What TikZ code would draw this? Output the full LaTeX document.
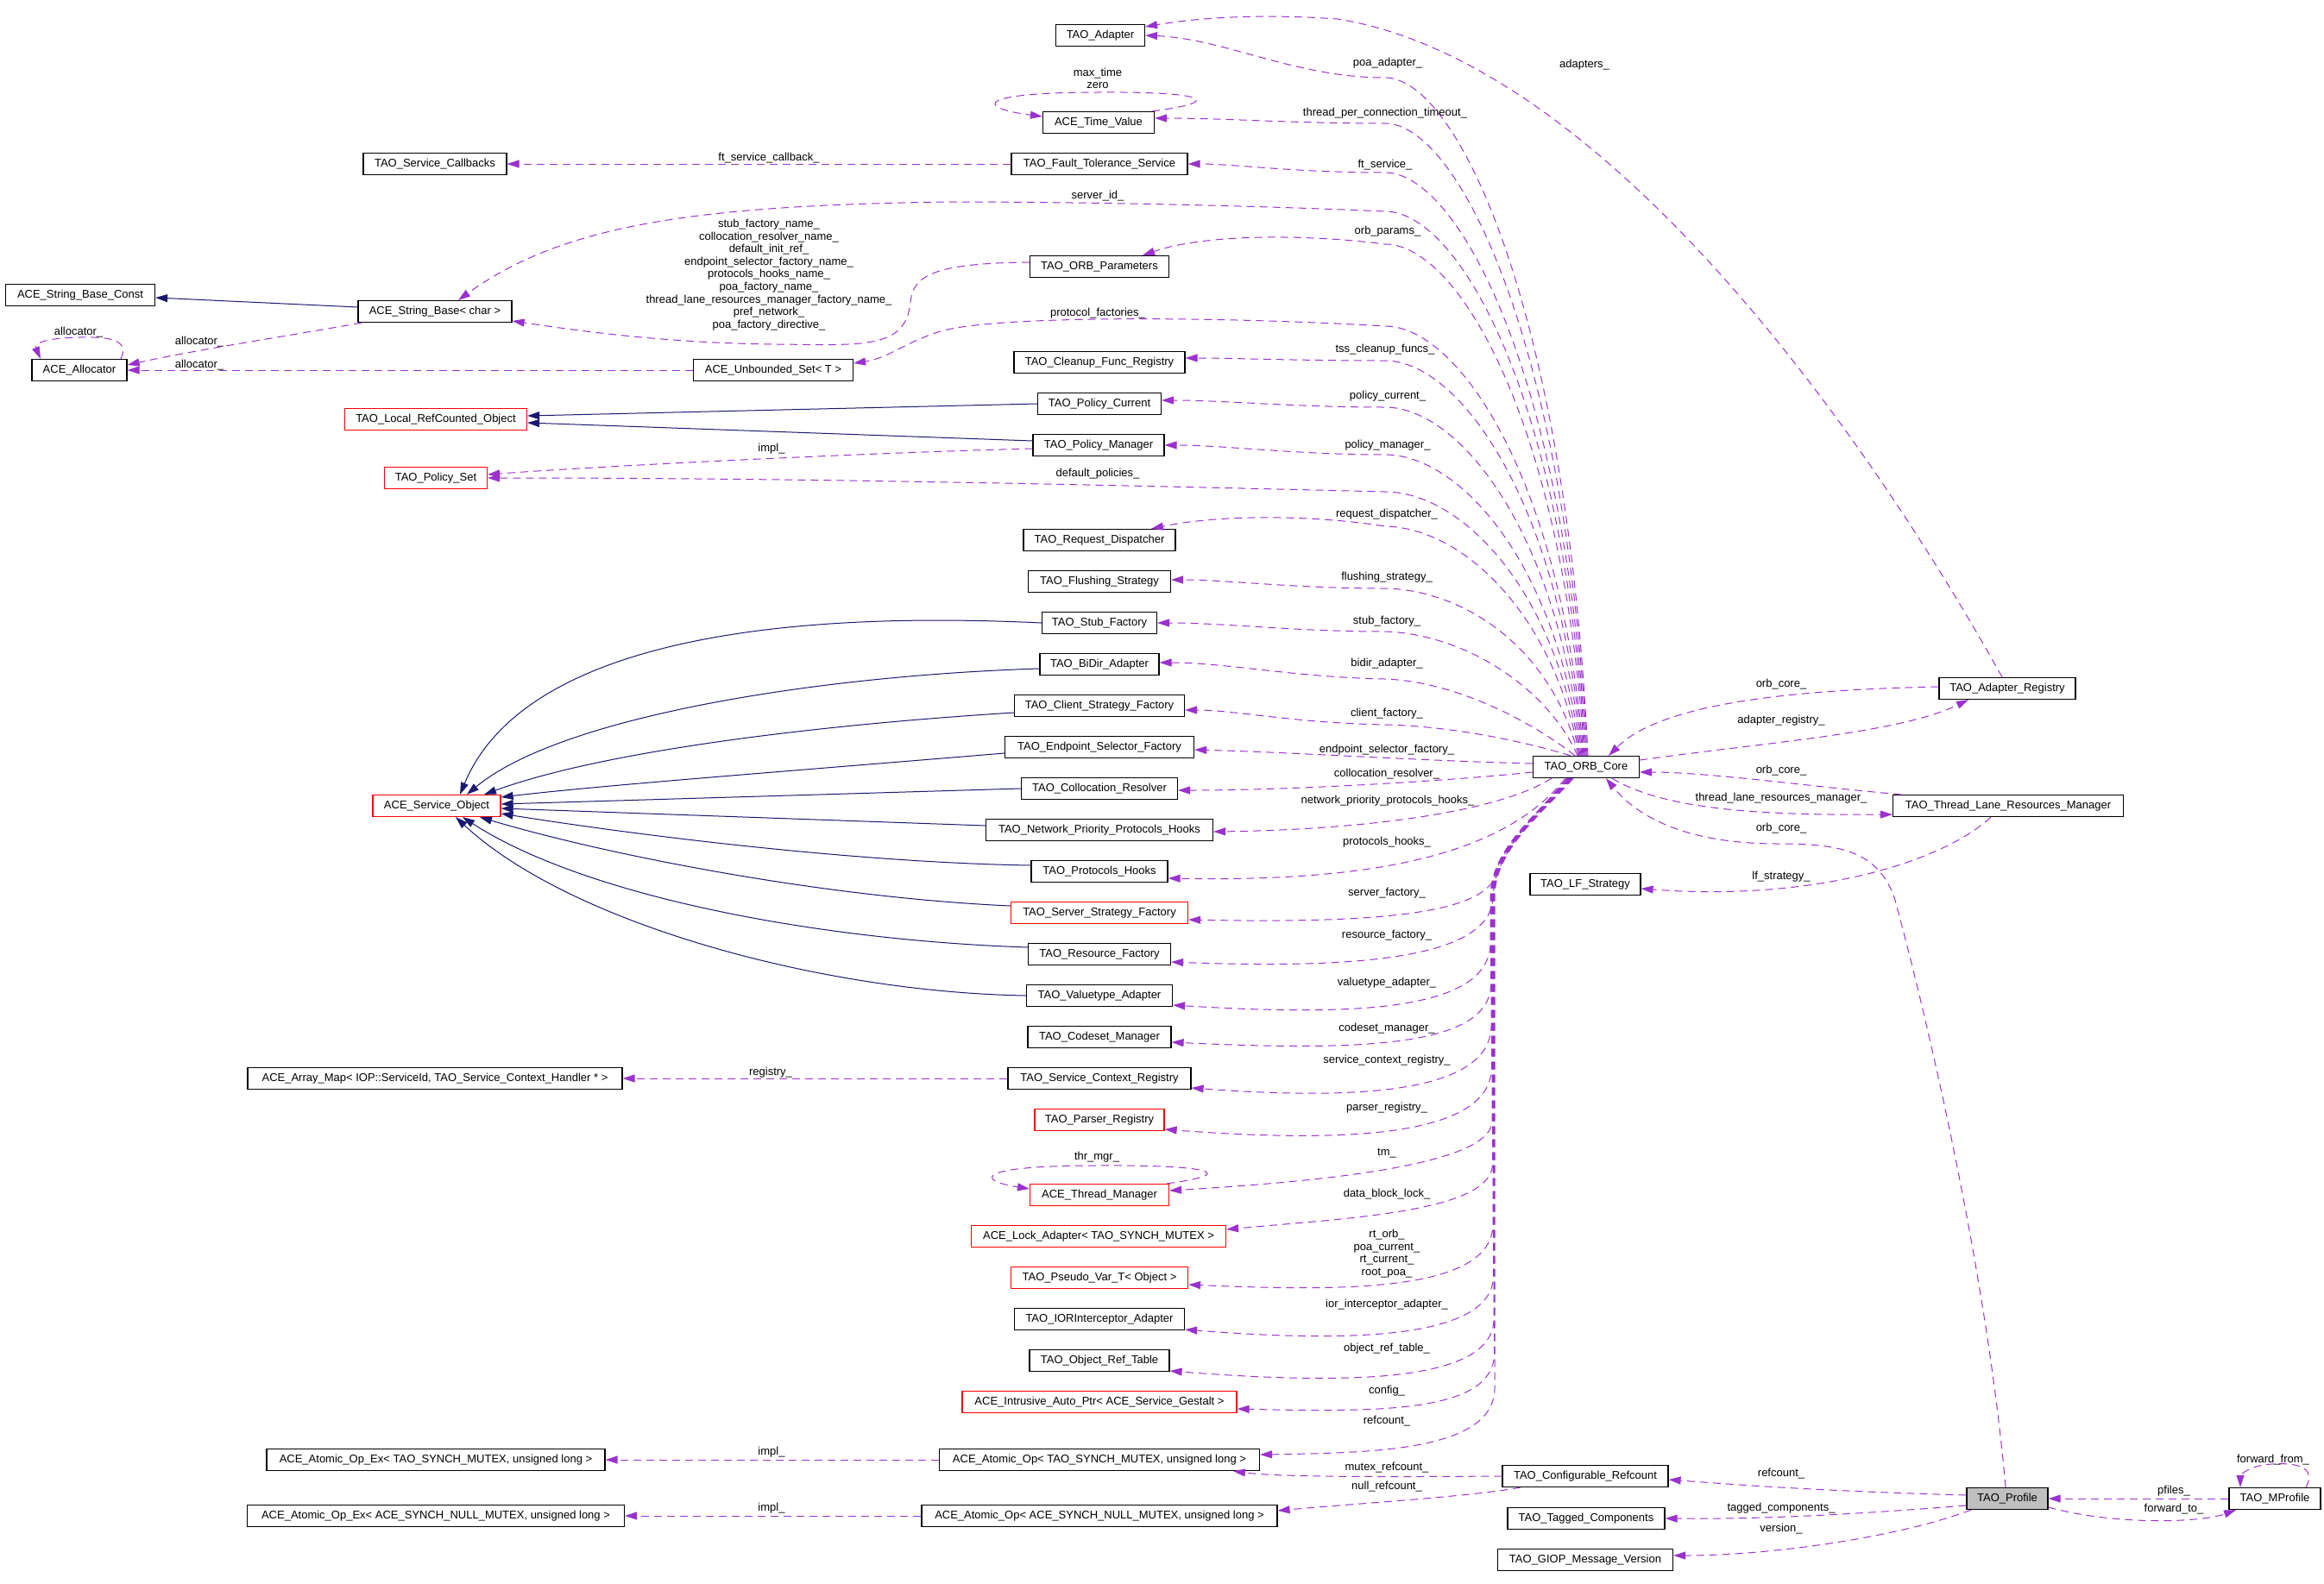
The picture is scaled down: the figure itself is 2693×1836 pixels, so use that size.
\documentclass[tikz,border=0pt]{standalone}
\usepackage{fontspec}
\setmainfont{Liberation Sans}
\usetikzlibrary{arrows.meta}
\definecolor{dpurple}{HTML}{9A32CD}
\definecolor{mnavy}{HTML}{191970}
\definecolor{pgray}{HTML}{BFBFBF}
\newcommand{\dxfs}{\fontsize{13}{14.6}\selectfont}
\begin{document}
\begin{tikzpicture}[x=1pt,y=1pt,
 cls/.style={draw=black,line width=1.2pt,fill=white,minimum height=25pt,inner xsep=0pt,inner ysep=0pt,font=\dxfs},
 rcls/.style={cls,draw=red},
 lab/.style={inner sep=0pt,font=\dxfs,align=center},
 usage/.style={draw=dpurple,line width=1pt,dash pattern=on 9pt off 6pt,-{Triangle[length=14pt,width=9pt]}},
 inh/.style={draw=mnavy,line width=1pt,-{Triangle[length=14pt,width=9pt]}}]
\fill[white] (0,0) rectangle (2693,-1836);
\useasboundingbox (0,0) rectangle (2693,-1836);
% ---------- nodes ----------
\node[cls,minimum width=173pt] (sbc) at (93,-342) {ACE\_String\_Base\_Const};
\node[cls,minimum width=178pt] (sb) at (504,-361) {ACE\_String\_Base< char >};
\node[cls,minimum width=110pt] (alloc) at (92,-429) {ACE\_Allocator};
\node[cls,minimum width=166pt] (tscb) at (504,-190) {TAO\_Service\_Callbacks};
\node[rcls,minimum width=211pt] (lrco) at (505,-486) {TAO\_Local\_RefCounted\_Object};
\node[rcls,minimum width=119pt] (pset) at (505,-554) {TAO\_Policy\_Set};
\node[rcls,minimum width=148pt] (so) at (506,-934) {ACE\_Service\_Object};
\node[cls,minimum width=434pt] (amap) at (504,-1250) {ACE\_Array\_Map< IOP::ServiceId, TAO\_Service\_Context\_Handler * >};
\node[cls,minimum width=392pt] (aoex1) at (505,-1692) {ACE\_Atomic\_Op\_Ex< TAO\_SYNCH\_MUTEX, unsigned long >};
\node[cls,minimum width=437pt] (aoex2) at (505,-1757) {ACE\_Atomic\_Op\_Ex< ACE\_SYNCH\_NULL\_MUTEX, unsigned long >};
\node[cls,minimum width=185pt] (aus) at (896,-429) {ACE\_Unbounded\_Set< T >};
\node[cls,minimum width=103pt] (adapter) at (1275,-41) {TAO\_Adapter};
\node[cls,minimum width=129pt] (tv) at (1273,-142) {ACE\_Time\_Value};
\node[cls,minimum width=204pt] (fts) at (1274,-190) {TAO\_Fault\_Tolerance\_Service};
\node[cls,minimum width=161pt] (orbp) at (1274,-309) {TAO\_ORB\_Parameters};
\node[cls,minimum width=198pt] (cfr) at (1274,-420) {TAO\_Cleanup\_Func\_Registry};
\node[cls,minimum width=143pt] (pcur) at (1274,-468) {TAO\_Policy\_Current};
\node[cls,minimum width=152pt] (pman) at (1273,-516) {TAO\_Policy\_Manager};
\node[cls,minimum width=176pt] (rd) at (1274,-626) {TAO\_Request\_Dispatcher};
\node[cls,minimum width=165pt] (fs) at (1274,-674) {TAO\_Flushing\_Strategy};
\node[cls,minimum width=133pt] (stub) at (1274,-722) {TAO\_Stub\_Factory};
\node[cls,minimum width=138pt] (bidir) at (1274,-770) {TAO\_BiDir\_Adapter};
\node[cls,minimum width=197pt] (csf) at (1274,-818) {TAO\_Client\_Strategy\_Factory};
\node[cls,minimum width=219pt] (esf) at (1274,-866) {TAO\_Endpoint\_Selector\_Factory};
\node[cls,minimum width=181pt] (cres) at (1274,-914) {TAO\_Collocation\_Resolver};
\node[cls,minimum width=263pt] (nph) at (1274,-962) {TAO\_Network\_Priority\_Protocols\_Hooks};
\node[cls,minimum width=158pt] (ph) at (1274,-1010) {TAO\_Protocols\_Hooks};
\node[rcls,minimum width=205pt] (ssf) at (1274,-1058) {TAO\_Server\_Strategy\_Factory};
\node[cls,minimum width=165pt] (rf) at (1274,-1106) {TAO\_Resource\_Factory};
\node[cls,minimum width=169pt] (vta) at (1274,-1154) {TAO\_Valuetype\_Adapter};
\node[cls,minimum width=166pt] (csm) at (1274,-1202) {TAO\_Codeset\_Manager};
\node[cls,minimum width=212pt] (scr) at (1274,-1250) {TAO\_Service\_Context\_Registry};
\node[rcls,minimum width=150pt] (preg) at (1274,-1298) {TAO\_Parser\_Registry};
\node[rcls,minimum width=161pt] (tm) at (1274,-1385) {ACE\_Thread\_Manager};
\node[rcls,minimum width=295pt] (lock) at (1273,-1433) {ACE\_Lock\_Adapter< TAO\_SYNCH\_MUTEX >};
\node[rcls,minimum width=205pt] (pv) at (1274,-1481) {TAO\_Pseudo\_Var\_T< Object >};
\node[cls,minimum width=197pt] (ior) at (1274,-1529) {TAO\_IORInterceptor\_Adapter};
\node[cls,minimum width=162pt] (ort) at (1274,-1577) {TAO\_Object\_Ref\_Table};
\node[rcls,minimum width=318pt] (iap) at (1274,-1625) {ACE\_Intrusive\_Auto\_Ptr< ACE\_Service\_Gestalt >};
\node[cls,minimum width=371pt] (ao1) at (1274,-1692) {ACE\_Atomic\_Op< TAO\_SYNCH\_MUTEX, unsigned long >};
\node[cls,minimum width=412pt] (ao2) at (1274,-1757) {ACE\_Atomic\_Op< ACE\_SYNCH\_NULL\_MUTEX, unsigned long >};
\node[cls,minimum width=123pt] (core) at (1838,-889) {TAO\_ORB\_Core};
\node[cls,minimum width=128pt] (lfs) at (1837,-1025) {TAO\_LF\_Strategy};
\node[cls,minimum width=192pt] (cref) at (1837,-1711) {TAO\_Configurable\_Refcount};
\node[cls,minimum width=182pt] (tagc) at (1838,-1760) {TAO\_Tagged\_Components};
\node[cls,minimum width=203pt] (giop) at (1837,-1808) {TAO\_GIOP\_Message\_Version};
\node[cls,minimum width=158pt] (areg) at (2326,-798) {TAO\_Adapter\_Registry};
\node[cls,minimum width=267pt] (tlrm) at (2327,-934) {TAO\_Thread\_Lane\_Resources\_Manager};
\node[cls,fill=pgray,minimum width=94pt] (prof) at (2326,-1737) {TAO\_Profile};
\node[cls,minimum width=106pt] (mprof) at (2636,-1737) {TAO\_MProfile};
% ---------- inheritance ----------
\draw[inh] ([yshift=5pt]sb.west) -- ([yshift=-3pt]sbc.east);
\draw[inh] (pcur.west) -- ([yshift=4pt]lrco.east);
\draw[inh] ([yshift=5pt]pman.west) -- ([yshift=-4pt]lrco.east);
\draw[inh] (stub.west) .. controls (850,-705) and (600,-760) .. ([xshift=27pt]so.north);
\draw[inh] ([yshift=-5pt]bidir.west) .. controls (950,-783) and (650,-830) .. ([xshift=35pt]so.north);
\draw[inh] ([yshift=-8pt]csf.west) .. controls (950,-840) and (700,-870) .. ([xshift=55pt]so.north);
\draw[inh] ([yshift=-7pt]esf.west) .. controls (900,-895) and (700,-910) .. ([yshift=10pt]so.east);
\draw[inh] (cres.west) -- ([yshift=2pt]so.east);
\draw[inh] ([yshift=5pt]nph.west) -- ([yshift=-3pt]so.east);
\draw[inh] ([yshift=7pt]ph.west) .. controls (1000,-1000) and (750,-970) .. ([yshift=-9pt]so.east);
\draw[inh] ([yshift=8pt]ssf.west) .. controls (950,-1040) and (700,-990) .. ([xshift=50pt]so.south);
\draw[inh] ([yshift=8pt]rf.west) .. controls (950,-1090) and (680,-1040) .. ([xshift=30pt]so.south);
\draw[inh] (vta.west) .. controls (950,-1150) and (660,-1070) .. ([xshift=22pt]so.south);
% ---------- usage: upper fan from core ----------
\draw[usage] ([xshift=2pt]core.north) .. controls (1816,-364) and (1690,-90) .. (1605,-90) .. controls (1500,-90) and (1420,-45) .. (adapter.east);
\draw[usage] ([xshift=1pt]core.north) .. controls (1816,-400) and (1690,-143) .. (1605,-143) .. controls (1500,-143) and (1420,-137) .. ([yshift=5pt]tv.east);
\draw[usage] (core.north) .. controls (1815,-437) and (1690,-200) .. (1605,-200) .. controls (1500,-200) and (1430,-190) .. (fts.east);
\draw[usage] ([xshift=-1pt]core.north) .. controls (1813,-460) and (1690,-245) .. (1605,-245) .. controls (1400,-236) and (1200,-234) .. (1100,-234) .. controls (800,-238) and (650,-262) .. ([xshift=27pt]sb.north);
\draw[usage] ([xshift=-2pt]core.north) .. controls (1811,-490) and (1690,-283) .. (1605,-283) .. controls (1520,-272) and (1400,-270) .. ([xshift=50pt]orbp.north);
\draw[usage] ([xshift=-3pt]core.north) .. controls (1809,-555) and (1690,-378) .. (1605,-378) .. controls (1400,-366) and (1150,-366) .. (1090,-384) .. controls (1050,-396) and (1030,-415) .. ([yshift=8pt]aus.east);
\draw[usage] ([xshift=-4pt]core.north) .. controls (1807,-578) and (1690,-418) .. (1605,-418) .. controls (1500,-418) and (1430,-415) .. ([yshift=5pt]cfr.east);
\draw[usage] ([xshift=-5pt]core.north) .. controls (1805,-613) and (1690,-472) .. (1605,-472) .. controls (1500,-472) and (1420,-464) .. ([yshift=4pt]pcur.east);
\draw[usage] ([xshift=-6pt]core.north) .. controls (1803,-649) and (1690,-527) .. (1605,-527) .. controls (1500,-527) and (1420,-516) .. (pman.east);
\draw[usage] ([xshift=-7pt]core.north) .. controls (1801,-677) and (1690,-570) .. (1605,-570) .. controls (1200,-560) and (900,-554) .. (pset.east);
\draw[usage] ([xshift=-8pt]core.north) .. controls (1803,-720) and (1700,-612) .. (1605,-610) .. controls (1530,-598) and (1420,-595) .. ([xshift=60pt]rd.north);
\draw[usage] ([xshift=-9pt]core.north) .. controls (1800,-755) and (1700,-684) .. (1605,-682) .. controls (1500,-682) and (1420,-672) .. ([yshift=2pt]fs.east);
\draw[usage] ([xshift=-10pt]core.north) .. controls (1795,-800) and (1700,-735) .. (1605,-732) .. controls (1500,-732) and (1420,-722) .. (stub.east);
\draw[usage] ([xshift=-13pt]core.north) .. controls (1780,-840) and (1690,-790) .. (1605,-787) .. controls (1500,-785) and (1420,-768) .. ([yshift=2pt]bidir.east);
\draw[usage] ([xshift=-18pt]core.north) .. controls (1775,-862) and (1690,-842) .. (1605,-840) .. controls (1500,-838) and (1430,-823) .. ([yshift=-5pt]csf.east);
\draw[usage] ([yshift=4pt]core.west) .. controls (1650,-882) and (1500,-872) .. ([yshift=-3pt]esf.east);
\draw[usage] ([yshift=-6pt]core.west) .. controls (1680,-905) and (1500,-916) .. ([yshift=-2pt]cres.east);
% ---------- usage: lower fan from core ----------
\draw[usage] ([xshift=-40pt]core.south) .. controls (1730,-945) and (1560,-962) .. ([yshift=-2pt]nph.east);
\draw[usage] ([xshift=-24pt]core.south) .. controls (1740,-995) and (1580,-1022) .. ([yshift=-8pt]ph.east);
\draw[usage] ([xshift=-22pt]core.south) .. controls (1770,-955) and (1740,-985) .. (1734,-1010) .. controls (1727,-1062) and (1580,-1070) .. ([yshift=-8pt]ssf.east);
\draw[usage] ([xshift=-21pt]core.south) .. controls (1775,-950) and (1732,-990) .. (1730,-1040) .. controls (1728,-1112) and (1570,-1123) .. ([yshift=-9pt]rf.east);
\draw[usage] ([xshift=-20pt]core.south) .. controls (1780,-945) and (1727,-985) .. (1727,-1040) -- (1727,-1094) .. controls (1725,-1172) and (1570,-1178) .. ([yshift=-11pt]vta.east);
\draw[usage] ([xshift=-19.5pt]core.south) .. controls (1780.5,-945) and (1727.5,-985) .. (1727.5,-1040) -- (1727.5,-1142) .. controls (1725.5,-1215) and (1570,-1218) .. ([yshift=-6pt]csm.east);
\draw[usage] ([xshift=-19pt]core.south) .. controls (1781,-945) and (1728,-985) .. (1728,-1040) -- (1728,-1190) .. controls (1726,-1268) and (1570,-1275) .. ([yshift=-11pt]scr.east);
\draw[usage] ([xshift=-18.5pt]core.south) .. controls (1781.5,-945) and (1728.5,-985) .. (1728.5,-1040) -- (1728.5,-1238) .. controls (1726.5,-1318) and (1560,-1325) .. ([yshift=-11pt]preg.east);
\draw[usage] ([xshift=-18pt]core.south) .. controls (1782,-945) and (1729,-985) .. (1729,-1040) -- (1729,-1300) .. controls (1727,-1352) and (1520,-1370) .. ([yshift=5pt]tm.east);
\draw[usage] ([xshift=-17.5pt]core.south) .. controls (1782.5,-945) and (1729.5,-985) .. (1729.5,-1040) -- (1729.5,-1350) .. controls (1727.5,-1405) and (1560,-1412) .. ([yshift=8pt]lock.east);
\draw[usage] ([xshift=-17pt]core.south) .. controls (1783,-945) and (1730,-985) .. (1730,-1040) -- (1730,-1420) .. controls (1728,-1497) and (1560,-1497) .. ([yshift=-8pt]pv.east);
\draw[usage] ([xshift=-16.5pt]core.south) .. controls (1783.5,-945) and (1730.5,-985) .. (1730.5,-1040) -- (1730.5,-1480) .. controls (1728.5,-1553) and (1560,-1556) .. ([yshift=-12pt]ior.east);
\draw[usage] ([xshift=-16pt]core.south) .. controls (1784,-945) and (1731,-985) .. (1731,-1040) -- (1731,-1530) .. controls (1729,-1603) and (1560,-1605) .. ([yshift=-12pt]ort.east);
\draw[usage] ([xshift=-15.5pt]core.south) .. controls (1784.5,-945) and (1731.5,-985) .. (1731.5,-1040) -- (1731.5,-1570) .. controls (1729.5,-1637) and (1600,-1637) .. ([yshift=-8pt]iap.east);
\draw[usage] ([xshift=-15pt]core.south) .. controls (1785,-945) and (1732,-985) .. (1732,-1040) -- (1732,-1610) .. controls (1730,-1680) and (1600,-1684) .. ([yshift=6pt]ao1.east);
% ---------- other usage edges ----------
\draw[usage] (fts.west) -- (tscb.east);
\draw[usage] ([xshift=-85pt]sb.south) .. controls (330,-390) and (230,-405) .. ([yshift=6pt]alloc.east);
\draw[usage] ([xshift=48pt]alloc.north) .. controls (150,-395) and (130,-390) .. (92,-391) .. controls (45,-392) and (40,-400) .. ([xshift=-45pt]alloc.north);
\draw[usage] (aus.west) -- (alloc.east);
\draw[usage] ([yshift=5pt]orbp.west) .. controls (1080,-305) and (1058,-320) .. (1055,-350) .. controls (1050,-405) and (1000,-400) .. (900,-399) .. controls (780,-398) and (680,-385) .. ([yshift=-11pt]sb.east);
\draw[usage] ([yshift=-4pt]pman.west) .. controls (1000,-525) and (700,-540) .. ([yshift=4pt]pset.east);
\draw[usage] ([xshift=-3pt]tv.north east) .. controls (1420,-118) and (1400,-106) .. (1272,-107) .. controls (1130,-107) and (1130,-125) .. ([yshift=7pt]tv.west);
\draw[usage] ([xshift=-3pt]tm.north east) .. controls (1440,-1360) and (1400,-1350) .. (1271,-1351) .. controls (1130,-1351) and (1130,-1368) .. ([yshift=7pt]tm.west);
\draw[usage] (scr.west) -- (amap.east);
\draw[usage] (ao1.west) -- (aoex1.east);
\draw[usage] (ao2.west) -- (aoex2.east);
\draw[usage] (cref.west) .. controls (1600,-1712) and (1480,-1712) .. ([xshift=155pt]ao1.south);
\draw[usage] ([xshift=-75pt]cref.south) .. controls (1700,-1735) and (1580,-1742) .. ([yshift=6pt]ao2.east);
\draw[usage] ([yshift=2pt]areg.west) .. controls (2050,-800) and (1920,-820) .. ([xshift=26pt]core.north);
\draw[usage] ([yshift=8pt]core.east) .. controls (2050,-860) and (2200,-850) .. ([xshift=-45pt]areg.south);
\draw[usage] ([xshift=10pt]tlrm.north west) .. controls (2100,-912) and (1980,-895) .. ([yshift=-6pt]core.east);
\draw[usage] ([xshift=30pt]core.south) .. controls (1930,-940) and (2050,-945) .. ([yshift=-10pt]tlrm.west);
\draw[usage] ([xshift=-2pt]prof.north) .. controls (2300,-1450) and (2220,-1130) .. (2195,-1040) .. controls (2175,-985) and (2130,-978) .. (2060,-978) .. controls (1960,-978) and (1900,-950) .. ([xshift=23pt]core.south);
\draw[usage] ([xshift=-20pt]tlrm.south) .. controls (2250,-1000) and (2100,-1045) .. ([yshift=-5pt]lfs.east);
\draw[usage] ([yshift=4pt]prof.west) .. controls (2100,-1728) and (2000,-1720) .. ([yshift=-4pt]cref.east);
\draw[usage] ([yshift=-8pt]prof.west) .. controls (2150,-1755) and (2050,-1761) .. (tagc.east);
\draw[usage] ([xshift=-42pt]prof.south) .. controls (2200,-1782) and (2050,-1803) .. ([yshift=5pt]giop.east);
\draw[usage] (mprof.west) -- (prof.east);
\draw[usage] ([yshift=-10pt]prof.east) .. controls (2450,-1768) and (2550,-1765) .. ([xshift=-45pt]mprof.south);
\draw[usage] ([xshift=36pt]mprof.north) .. controls (2685,-1700) and (2660,-1695) .. (2632,-1697) .. controls (2605,-1699) and (2596,-1710) .. ([xshift=-40pt]mprof.north);
\draw[usage] ([xshift=-6pt]areg.north) .. controls (2150,-480) and (1850,-70) .. (1550,-22) .. controls (1450,-15) and (1380,-22) .. ([yshift=10pt]adapter.east);
% ---------- labels ----------
\node[lab] (l1) at (1608,-73) {poa\_adapter\_};
\node[lab] (l2) at (1836,-75) {adapters\_};
\node[lab] (l3) at (1272,-91) {max\_time\\zero};
\node[lab] (l4) at (1605,-131) {thread\_per\_connection\_timeout\_};
\node[lab] (l5) at (891,-183) {ft\_service\_callback\_};
\node[lab] (l6) at (1605,-191) {ft\_service\_};
\node[lab] (l7) at (1272,-227) {server\_id\_};
\node[lab] (l8) at (1608,-268) {orb\_params\_};
\node[lab] (l9) at (891,-318.5) {stub\_factory\_name\_\\collocation\_resolver\_name\_\\default\_init\_ref\_\\endpoint\_selector\_factory\_name\_\\protocols\_hooks\_name\_\\poa\_factory\_name\_\\thread\_lane\_resources\_manager\_factory\_name\_\\pref\_network\_\\poa\_factory\_directive\_};
\node[lab] (l10) at (1272,-363) {protocol\_factories\_};
\node[lab] (l11) at (91,-385) {allocator\_};
\node[lab] (l12) at (231,-396) {allocator\_};
\node[lab] (l13) at (1605,-405) {tss\_cleanup\_funcs\_};
\node[lab] (l14) at (231,-423) {allocator\_};
\node[lab] (l15) at (1608,-459) {policy\_current\_};
\node[lab] (l16) at (1608,-516) {policy\_manager\_};
\node[lab] (l17) at (894,-520) {impl\_};
\node[lab] (l18) at (1272,-549) {default\_policies\_};
\node[lab] (l19) at (1607,-596) {request\_dispatcher\_};
\node[lab] (l20) at (1607,-669) {flushing\_strategy\_};
\node[lab] (l21) at (1607,-720) {stub\_factory\_};
\node[lab] (l22) at (1607,-769) {bidir\_adapter\_};
\node[lab] (l23) at (1607,-827) {client\_factory\_};
\node[lab] (l24) at (1607,-869) {endpoint\_selector\_factory\_};
\node[lab] (l25) at (1607,-897) {collocation\_resolver\_};
\node[lab] (l26) at (1608,-928) {network\_priority\_protocols\_hooks\_};
\node[lab] (l27) at (1607,-976) {protocols\_hooks\_};
\node[lab] (l28) at (1607,-1035) {server\_factory\_};
\node[lab] (l29) at (1607,-1084) {resource\_factory\_};
\node[lab] (l30) at (1607,-1139) {valuetype\_adapter\_};
\node[lab] (l31) at (1607,-1192) {codeset\_manager\_};
\node[lab] (l32) at (1607,-1229) {service\_context\_registry\_};
\node[lab] (l33) at (893,-1243) {registry\_};
\node[lab] (l34) at (1607,-1284) {parser\_registry\_};
\node[lab] (l35) at (1271,-1341) {thr\_mgr\_};
\node[lab] (l36) at (1607,-1337) {tm\_};
\node[lab] (l37) at (1607,-1384) {data\_block\_lock\_};
\node[lab] (l38) at (1607,-1453) {rt\_orb\_\\poa\_current\_\\rt\_current\_\\root\_poa\_};
\node[lab] (l39) at (1607,-1512) {ior\_interceptor\_adapter\_};
\node[lab] (l40) at (1607,-1563) {object\_ref\_table\_};
\node[lab] (l41) at (1607,-1612) {config\_};
\node[lab] (l42) at (1607,-1647) {refcount\_};
\node[lab] (l43) at (894,-1683) {impl\_};
\node[lab] (l44) at (1607,-1701) {mutex\_refcount\_};
\node[lab] (l45) at (1607,-1723) {null\_refcount\_};
\node[lab] (l46) at (894,-1748) {impl\_};
\node[lab] (l47) at (2064,-793) {orb\_core\_};
\node[lab] (l48) at (2064,-835) {adapter\_registry\_};
\node[lab] (l49) at (2064,-893) {orb\_core\_};
\node[lab] (l50) at (2064,-925) {thread\_lane\_resources\_manager\_};
\node[lab] (l51) at (2064,-960) {orb\_core\_};
\node[lab] (l52) at (2064,-1016) {lf\_strategy\_};
\node[lab] (l53) at (2064,-1708) {refcount\_};
\node[lab] (l54) at (2064,-1748) {tagged\_components\_};
\node[lab] (l55) at (2064,-1772) {version\_};
\node[lab] (l56) at (2519,-1728) {pfiles\_};
\node[lab] (l57) at (2519,-1749) {forward\_to\_};
\node[lab] (l58) at (2634,-1692) {forward\_from\_};
\end{tikzpicture}
\end{document}
